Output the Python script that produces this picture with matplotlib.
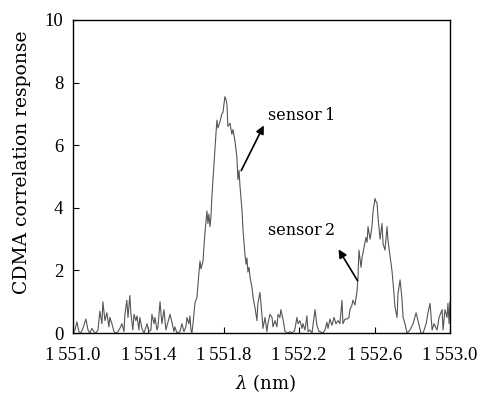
import matplotlib
matplotlib.use("Agg")
import matplotlib.pyplot as plt

# wavelength (nm) and CDMA correlation response
wavelength = [
    1551.000, 1551.011, 1551.021, 1551.032, 1551.042, 1551.053, 1551.069, 1551.080, 1551.090, 1551.101,
    1551.111, 1551.122, 1551.133, 1551.143, 1551.154, 1551.159, 1551.170, 1551.180, 1551.191, 1551.196,
    1551.207, 1551.218, 1551.228, 1551.239, 1551.249, 1551.260, 1551.271, 1551.276, 1551.286, 1551.292,
    1551.302, 1551.308, 1551.318, 1551.324, 1551.334, 1551.340, 1551.350, 1551.355, 1551.366, 1551.377,
    1551.393, 1551.403, 1551.414, 1551.419, 1551.430, 1551.435, 1551.446, 1551.451, 1551.462, 1551.472,
    1551.483, 1551.493, 1551.504, 1551.515, 1551.525, 1551.536, 1551.541, 1551.552, 1551.568, 1551.578,
    1551.589, 1551.599, 1551.605, 1551.615, 1551.621, 1551.626, 1551.631,
    1551.637, 1551.647, 1551.658, 1551.668, 1551.674, 1551.679, 1551.690, 1551.700, 1551.706, 1551.711,
    1551.716, 1551.721, 1551.727, 1551.732, 1551.737, 1551.748, 1551.759, 1551.764, 1551.769, 1551.780,
    1551.790, 1551.796, 1551.806, 1551.812, 1551.817, 1551.822, 1551.833, 1551.843, 1551.849, 1551.859,
    1551.870, 1551.875, 1551.881, 1551.886, 1551.897, 1551.902, 1551.912, 1551.918, 1551.923, 1551.928,
    1551.934, 1551.939, 1551.950, 1551.955, 1551.966, 1551.976, 1551.981, 1551.992, 1552.003, 1552.008,
    1552.019, 1552.029, 1552.034, 1552.045, 1552.056, 1552.061, 1552.072, 1552.082, 1552.088, 1552.098,
    1552.103, 1552.114, 1552.125, 1552.141, 1552.151, 1552.162, 1552.172, 1552.178, 1552.188, 1552.194,
    1552.204, 1552.215, 1552.220, 1552.231, 1552.241, 1552.247, 1552.257, 1552.268, 1552.284, 1552.294,
    1552.305, 1552.310, 1552.326, 1552.337, 1552.347, 1552.353, 1552.363, 1552.374, 1552.385, 1552.395,
    1552.406, 1552.416, 1552.427, 1552.432, 1552.443, 1552.454, 1552.464, 1552.469, 1552.480, 1552.485,
    1552.496, 1552.507, 1552.512,
    1552.517, 1552.528, 1552.533, 1552.544, 1552.554, 1552.560, 1552.565, 1552.576, 1552.586, 1552.592,
    1552.602, 1552.607, 1552.613, 1552.618, 1552.629, 1552.639, 1552.645, 1552.655, 1552.666, 1552.671,
    1552.682, 1552.692, 1552.698, 1552.708, 1552.719, 1552.724, 1552.735, 1552.745, 1552.751, 1552.761,
    1552.772, 1552.788, 1552.804, 1552.820, 1552.830, 1552.846, 1552.857, 1552.873, 1552.883, 1552.894,
    1552.905, 1552.915, 1552.931, 1552.942, 1552.958, 1552.963, 1552.973, 1552.984, 1552.989, 1552.995,
    1553.000,
]
response = [
    0.00, 0.10, 0.36, 0.05, 0.00, 0.15, 0.45, 0.10, 0.00, 0.15,
    0.05, 0.00, 0.10, 0.70, 0.30, 1.00, 0.40, 0.65, 0.20, 0.50,
    0.30, 0.05, 0.00, 0.05, 0.15, 0.30, 0.05, 0.60, 1.05, 0.50,
    1.20, 0.60, 0.10, 0.60, 0.40, 0.55, 0.10, 0.50, 0.15, 0.00,
    0.30, 0.05, 0.10, 0.60, 0.30, 0.50, 0.10, 0.20, 1.00, 0.30,
    0.75, 0.10, 0.35, 0.60, 0.35, 0.05, 0.20, 0.00, 0.05, 0.30,
    0.05, 0.20, 0.50, 0.30, 0.55, 0.10, 0.00,
    0.30, 0.95, 1.15, 1.90, 2.30, 2.05, 2.30, 3.20, 3.60, 3.90,
    3.50, 3.80, 3.40, 3.70, 4.35, 5.40, 6.40, 6.80, 6.55, 6.75,
    7.00, 7.05, 7.55, 7.45, 7.30, 6.60, 6.70, 6.35, 6.50, 6.15,
    5.60, 4.90, 5.20, 4.70, 3.90, 3.30, 2.55, 2.20, 2.40, 1.95,
    2.10, 1.80, 1.45, 1.15, 0.80, 0.40, 0.95, 1.30, 0.55, 0.15,
    0.50, 0.05, 0.30, 0.60, 0.50, 0.20, 0.40, 0.20, 0.60, 0.50,
    0.75, 0.45, 0.05, 0.00, 0.05, 0.00, 0.05, 0.15, 0.50, 0.30,
    0.40, 0.15, 0.30, 0.10, 0.55, 0.05, 0.10, 0.00, 0.75, 0.25,
    0.05, 0.05, 0.00, 0.10, 0.35, 0.15, 0.45, 0.25, 0.50, 0.30,
    0.40, 0.30, 1.05, 0.30, 0.45, 0.45, 0.50, 0.75, 0.90, 1.05,
    0.90, 1.35, 1.80,
    2.65, 2.10, 2.40, 2.75, 3.05, 2.90, 3.40, 3.00, 3.40, 3.90,
    4.30, 4.20, 4.15, 3.70, 3.00, 3.50, 2.85, 2.65, 3.40, 2.95,
    2.45, 2.00, 1.60, 0.85, 0.50, 1.25, 1.70, 1.10, 0.50, 0.30,
    0.00, 0.10, 0.30, 0.65, 0.40, 0.00, 0.00, 0.30, 0.65, 0.95,
    0.10, 0.30, 0.10, 0.50, 0.75, 0.10, 0.75, 0.50, 0.95, 0.30,
    1.00,
]

x_ticks = [1551.0, 1551.4, 1551.8, 1552.2, 1552.6, 1553.0]
x_tick_labels = ["1\u2009551.0", "1\u2009551.4", "1\u2009551.8", "1\u2009552.2", "1\u2009552.6", "1\u2009553.0"]
y_ticks = [0, 2, 4, 6, 8, 10]

plt.rcParams['font.family'] = ['Liberation Serif', 'DejaVu Serif']
plt.rcParams['mathtext.fontset'] = 'dejavuserif'

fig = plt.figure(figsize=(4.86, 3.98), dpi=100)
ax = fig.add_axes([0.150, 0.163, 0.776, 0.787])

ax.plot(wavelength, response, color='#555555', lw=0.8)

ax.set_xlim(1551.0, 1553.0)
ax.set_ylim(0, 10)
ax.set_xticks(x_ticks)
ax.set_xticklabels(x_tick_labels, fontsize=13.5)
ax.set_yticks(y_ticks)
ax.set_yticklabels([str(v) for v in y_ticks], fontsize=13.5)
ax.tick_params(direction='in', length=4, width=0.8, top=False, right=False)
ax.tick_params(axis='x', pad=10)
ax.tick_params(axis='y', pad=7)

for s in ax.spines.values():
    s.set_linewidth(1.0)
    s.set_color('black')

ax.set_xlabel('$\\lambda$ (nm)', fontsize=13, family='DejaVu Serif')
ax.set_ylabel('CDMA correlation response', fontsize=13.5, family='DejaVu Serif')
ax.xaxis.set_label_coords(0.512, -0.125)
ax.yaxis.set_label_coords(-0.112, 0.545)

ax.annotate('', xy=(1552.019, 6.71), xytext=(1551.886, 5.11),
            arrowprops=dict(arrowstyle='-|>', color='black', lw=1.2, mutation_scale=12))
ax.annotate('', xy=(1552.401, 2.75), xytext=(1552.517, 1.60),
            arrowprops=dict(arrowstyle='-|>', color='black', lw=1.2, mutation_scale=12))
ax.text(1552.034, 6.96, 'sensor\u20091', fontsize=11.5, va='center', ha='left', family='DejaVu Serif')
ax.text(1552.034, 3.28, 'sensor\u20092', fontsize=11.5, va='center', ha='left', family='DejaVu Serif')

fig.savefig('out.png', dpi=100)
